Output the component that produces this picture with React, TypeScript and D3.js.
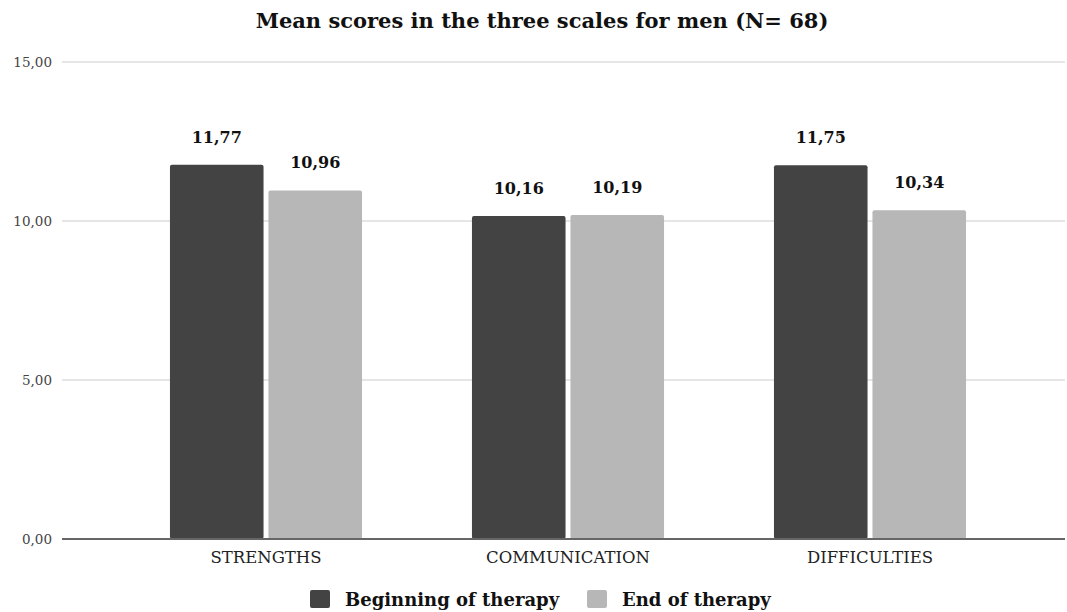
import React from "react";
import * as d3 from "d3";

const categories = ["STRENGTHS", "COMMUNICATION", "DIFFICULTIES"];
const seriesNames = ["Beginning of therapy", "End of therapy"];
const beginningValues = [11.77, 10.16, 11.75];
const endValues = [10.96, 10.19, 10.34];
const yTicks = [0, 5, 10, 15];
const colors = ["#434343", "#b7b7b7"];

const W = 1067;
const H = 612;
const serif = "Georgia, 'DejaVu Serif', serif";

const fmt = (v: number) => v.toFixed(2).replace(".", ",");

export default function App() {
  const y = d3.scaleLinear().domain([0, 15]).range([539, 62]);
  const x0 = d3
    .scaleBand<string>()
    .domain(categories)
    .range([115, 1021])
    .paddingInner(0.364)
    .paddingOuter(0.182);
  const x1 = d3
    .scaleBand<number>()
    .domain([0, 1])
    .range([0, x0.bandwidth()])
    .paddingInner(0.05);

  const series = [beginningValues, endValues];

  // legend layout: swatch, gap, label, then spacing to next entry
  const legendX = [310, 587];

  return (
    <svg
      width={W}
      height={H}
      style={{ position: "absolute", left: 0, top: 0, background: "#fff" }}
    >
      <text
        x={542}
        y={28}
        textAnchor="middle"
        fontFamily={serif}
        fontWeight="bold"
        fontSize={21}
        fill="#111"
      >
        Mean scores in the three scales for men (N= 68)
      </text>

      {yTicks.map((t) => (
        <g key={t}>
          {t !== 0 && (
            <line x1={62} x2={1065} y1={y(t)} y2={y(t)} stroke="#cccccc" strokeWidth={1} />
          )}
          <text
            x={52}
            y={y(t)}
            dy="0.35em"
            textAnchor="end"
            fontFamily={serif}
            fontSize={13.5}
            fill="#444"
          >
            {fmt(t)}
          </text>
        </g>
      ))}

      {categories.map((c, i) => (
        <g key={c} transform={`translate(${x0(c)},0)`}>
          {series.map((vals, s) => {
            const bx = x1(s)!;
            const bw = x1.bandwidth();
            const top = y(vals[i]);
            return (
              <g key={s}>
                <rect
                  x={bx}
                  y={top}
                  width={bw}
                  height={y(0) - top}
                  rx={2}
                  fill={colors[s]}
                />
                <text
                  x={bx + bw / 2}
                  y={top - 22}
                  textAnchor="middle"
                  fontFamily={serif}
                  fontWeight="bold"
                  fontSize={16}
                  fill="#111"
                >
                  {fmt(vals[i])}
                </text>
              </g>
            );
          })}
          <text
            x={x0.bandwidth() / 2}
            y={563}
            textAnchor="middle"
            fontFamily={serif}
            fontSize={16.5}
            fill="#222"
          >
            {c}
          </text>
        </g>
      ))}

      <line x1={62} x2={1065} y1={y(0)} y2={y(0)} stroke="#666" strokeWidth={2} />

      {seriesNames.map((name, s) => (
        <g key={name}>
          <rect x={legendX[s]} y={590} width={20} height={18} rx={2} fill={colors[s]} />
          <text
            x={legendX[s] + 35}
            y={606}
            fontFamily={serif}
            fontWeight="bold"
            fontSize={18}
            fill="#111"
          >
            {name}
          </text>
        </g>
      ))}
    </svg>
  );
}
